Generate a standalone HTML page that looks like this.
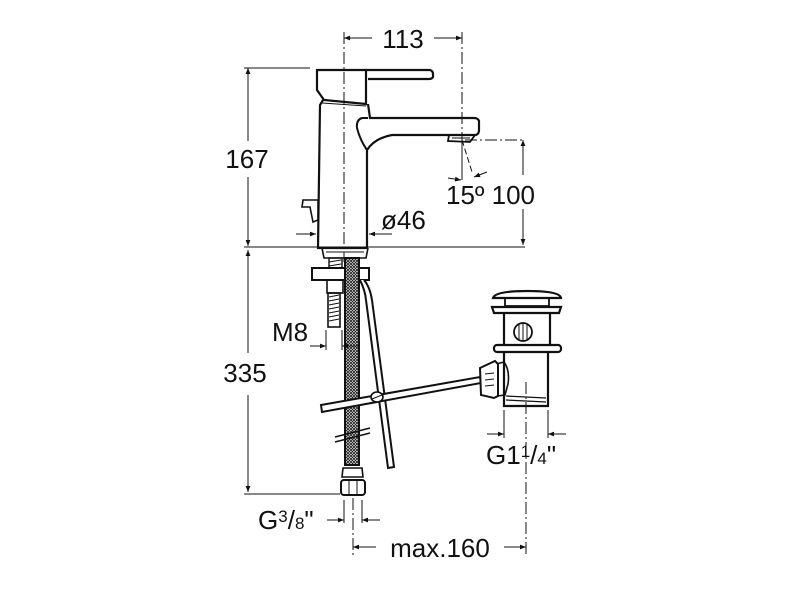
<!DOCTYPE html>
<html><head><meta charset="utf-8"><style>
html,body{margin:0;padding:0;background:#fff;width:800px;height:600px;overflow:hidden}
svg text{font-family:"Liberation Sans",sans-serif;fill:#111}
</style></head><body>
<svg width="800" height="600" viewBox="0 0 800 600" xmlns="http://www.w3.org/2000/svg">
<defs>
<pattern id="hatch" width="3" height="3" patternUnits="userSpaceOnUse">
<rect width="3" height="3" fill="#fff"/><path d="M0 0L3 3M3 0L0 3" stroke="#222" stroke-width="0.9"/>
</pattern>
<marker id="ar" viewBox="0 0 10 10" refX="10" refY="5" markerWidth="8" markerHeight="6" orient="auto-start-reverse"><path d="M0 1L10 5L0 9z" fill="#111"/></marker>
</defs>
<g stroke="#111" fill="none" stroke-width="1">
<line x1="344" y1="32" x2="344" y2="262" stroke-dasharray="12,3,2,3"/>
<line x1="462" y1="32" x2="462" y2="140" stroke-dasharray="12,3,2,3"/>
<line x1="465" y1="140" x2="525" y2="140" stroke-dasharray="12,3,2,3"/>
<line x1="353" y1="498" x2="353" y2="555" stroke-dasharray="12,3,2,3"/>
<line x1="526" y1="382" x2="526" y2="555" stroke-dasharray="12,3,2,3"/>
<line x1="344" y1="38" x2="372" y2="38" marker-start="url(#ar)"/>
<line x1="434" y1="38" x2="462" y2="38" marker-end="url(#ar)"/>
<line x1="244" y1="68" x2="310" y2="68"/>
<line x1="248" y1="68" x2="248" y2="141" marker-start="url(#ar)"/>
<line x1="248" y1="177" x2="248" y2="246" marker-end="url(#ar)"/>
<line x1="244" y1="247" x2="525" y2="247"/>
<line x1="523" y1="140" x2="523" y2="175" marker-start="url(#ar)"/>
<line x1="523" y1="209" x2="523" y2="245" marker-end="url(#ar)"/>
<line x1="462" y1="140" x2="462" y2="180"/>
<line x1="462" y1="140" x2="472" y2="172" stroke-dasharray="6,3"/>
<line x1="448" y1="178" x2="461" y2="180" marker-end="url(#ar)"/>
<line x1="487" y1="172" x2="474" y2="177" marker-end="url(#ar)"/>
<line x1="296" y1="234" x2="316" y2="234" marker-end="url(#ar)"/>
<line x1="392" y1="234" x2="369" y2="234" marker-end="url(#ar)"/>
<path d="M317 70 L317 90 L324 100 L366 104 L366 70 Z" stroke-width="2.2"/>
<path d="M366 70 L430 70 Q433 71 433 74 L433 77 Q432 79 429 79 L368 79" stroke-width="2.2"/>
<path d="M323 100 L320 105 L318 248 L367 248 L367 150 Q375 138 392 135 L476 135 Q479 134 479 130 L479 121 Q478 118 474 118 L370 118 L368 104" stroke-width="2.2"/>
<path d="M368 118 L362 118 Q356 120 357 128 Q360 140 367 150" stroke-width="2"/>
<line x1="322" y1="103" x2="366" y2="106" stroke-width="1"/>
<path d="M449 135 L448 141 L470 142 L475 135" stroke-width="1.8"/>
<line x1="452" y1="138" x2="470" y2="138"/>
<path d="M303 200 L318 200 L318 220 L313 222 L310 207 L302 207 Z" stroke-width="1.6"/>
<path d="M322 248 L324 258 L366 258 L368 248" stroke-width="1.6"/>
<line x1="326" y1="252" x2="364" y2="252"/>
<rect x="312" y="268" width="57" height="12" stroke-width="2"/>
<rect x="327" y="280" width="16" height="13" stroke-width="1.6"/>
<rect x="329" y="258" width="13" height="10" stroke-width="1.4"/>
<rect x="328" y="293" width="12" height="34" stroke-width="1.6"/>
<path d="M329 297 L339 295 M329 301 L339 299 M329 305 L339 303 M329 309 L339 307 M329 313 L339 311 M329 317 L339 315 M329 321 L339 319 M329 262 L341 260 M329 266 L341 264"/>
<rect x="345" y="258" width="14" height="207" fill="url(#hatch)" stroke-width="2"/>
<path d="M343 468 L362 468 L363 477 L342 477 Z" stroke-width="1.6"/>
<rect x="341" y="480" width="24" height="15" rx="3" stroke-width="2"/>
<line x1="349" y1="480" x2="349" y2="495"/><line x1="357" y1="480" x2="357" y2="495"/>
<path d="M360 280 Q365 290 366 300 L388 468 L394 467 L372 300 Q370 287 364 280" stroke-width="2" fill="#fff"/>
<path d="M321 405 L480 377 L481 383 L322 412 Z" stroke-width="2" fill="#fff"/>
<ellipse cx="377" cy="397" rx="6" ry="5" stroke-width="1.6" fill="#fff"/>
<line x1="372" y1="399" x2="382" y2="395"/>
<line x1="335" y1="437" x2="370" y2="428" stroke-width="1.5"/>
<line x1="335" y1="442" x2="370" y2="433" stroke-width="1.5"/>
<path d="M493 298 Q495 291 527 291 Q560 291 561 298 Z" stroke-width="2.2"/>
<path d="M505 298 L505 306 L549 306 L549 298" stroke-width="1.8"/>
<path d="M492 307 L561 307 L559 313 L494 313 Z" stroke-width="2.2"/>
<path d="M504 313 L504 345 M550 313 L550 345" stroke-width="2.2"/>
<circle cx="523" cy="332" r="9" stroke-width="1.8"/>
<path d="M519 324 L519 340 M523 323 L523 341 M527 324 L527 340"/>
<rect x="494" y="345" width="67" height="7" rx="3" stroke-width="2.2"/>
<path d="M504 352 L504 406 L548 406 L548 352" stroke-width="2.2"/>
<path d="M506 396 L546 398 M506 400 L546 402" stroke-width="1.2"/>
<path d="M496 364 L504 362 Q510 370 508 384 L505 395 L497 396" stroke-width="1.6"/>
<path d="M480 368 L495 361 L498 364 L498 396 L494 398 L481 395 Z" stroke-width="2" fill="#fff"/>
<path d="M485 374 L494 373 M485 380 L494 379 M485 386 L494 385"/>
<line x1="326" y1="330" x2="326" y2="350"/><line x1="342" y1="330" x2="342" y2="350"/>
<line x1="310" y1="346" x2="326" y2="346" marker-end="url(#ar)"/>
<line x1="358" y1="346" x2="342" y2="346" marker-end="url(#ar)"/>
<line x1="248" y1="250" x2="248" y2="353" marker-start="url(#ar)"/>
<line x1="248" y1="395" x2="248" y2="492" marker-end="url(#ar)"/>
<line x1="244" y1="494" x2="340" y2="494"/>
<line x1="344" y1="500" x2="344" y2="523"/><line x1="362" y1="500" x2="362" y2="523"/>
<line x1="327" y1="520" x2="344" y2="520" marker-end="url(#ar)"/>
<line x1="380" y1="520" x2="362" y2="520" marker-end="url(#ar)"/>
<line x1="504" y1="410" x2="504" y2="438"/><line x1="548" y1="410" x2="548" y2="438"/>
<line x1="487" y1="434" x2="504" y2="434" marker-end="url(#ar)"/>
<line x1="566" y1="434" x2="548" y2="434" marker-end="url(#ar)"/>
<line x1="353" y1="547" x2="376" y2="547" marker-start="url(#ar)"/>
<line x1="504" y1="547" x2="526" y2="547" marker-end="url(#ar)"/>
</g>
<g font-size="26">
<text x="403" y="48" text-anchor="middle">113</text>
<text x="247" y="168" text-anchor="middle">167</text>
<text x="446" y="204">15º 100</text>
<text x="381" y="229">ø46</text>
<text x="272" y="341">M8</text>
<text x="245" y="382" text-anchor="middle">335</text>
<text x="486" y="464">G1<tspan font-size="17" dy="-7">1</tspan><tspan dy="7">/</tspan><tspan font-size="17">4</tspan>"</text>
<text x="258" y="529">G<tspan font-size="17" dy="-7">3</tspan><tspan dy="7">/</tspan><tspan font-size="17">8</tspan>"</text>
<text x="440" y="557" text-anchor="middle">max.160</text>
</g>
</svg>
</body></html>
